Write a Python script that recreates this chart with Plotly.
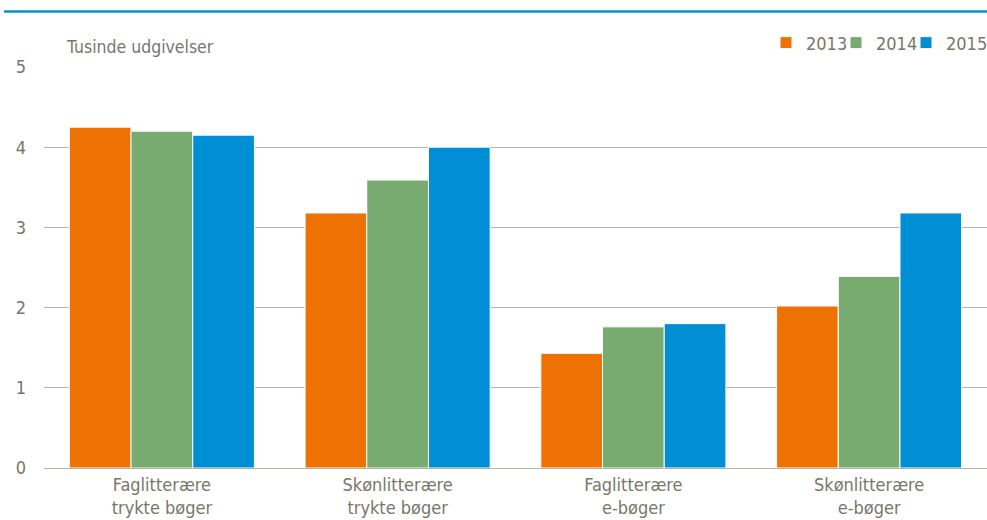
import plotly.graph_objects as go

categories = ["Faglitterære<br>trykte bøger", "Skønlitterære<br>trykte bøger",
              "Faglitterære<br>e-bøger", "Skønlitterære<br>e-bøger"]
years = ["2013", "2014", "2015"]
v2013 = [4.25, 3.18, 1.43, 2.02]
v2014 = [4.20, 3.59, 1.76, 2.39]
v2015 = [4.15, 4.00, 1.80, 3.18]
colors = ["#EE7203", "#78AB6F", "#008FD5"]
y_ticks = [0, 1, 2, 3, 4, 5]

FONT = "DejaVu Sans Condensed, Liberation Sans, sans-serif"
TXT = "#77776a"

fig = go.Figure()
for i, (name, vals, c) in enumerate(zip(years, [v2013, v2014, v2015], colors)):
    fig.add_trace(go.Bar(name=name, x=categories, y=vals, marker_color=c,
                         marker_line_color="white", marker_line_width=1,
                         legendwidth=(42 if i == len(years) - 1 else 25)))

fig.update_layout(
    width=987, height=520,
    margin=dict(l=44, r=0, t=67, b=52, autoexpand=False),
    paper_bgcolor="white", plot_bgcolor="white",
    barmode="group", bargap=0.215, bargroupgap=0.0,
    font=dict(family=FONT, color=TXT, size=18),
    showlegend=True,
    legend=dict(orientation="h", x=1.0 + 6 / 943, xanchor="right", y=1.06, yanchor="middle",
                bgcolor="rgba(0,0,0,0)", font=dict(size=18, color=TXT),
                itemwidth=30, entrywidth=25, entrywidthmode="pixels",
                traceorder="normal"),
    xaxis=dict(showgrid=False, showline=False, ticks="", ticklabelstandoff=4,
               tickfont=dict(size=18, color=TXT)),
    yaxis=dict(range=[0, 5], tickvals=y_ticks, showgrid=True, gridcolor="#b5b5a5",
               gridwidth=1, zeroline=True, zerolinecolor="#b5b5a5", zerolinewidth=1,
               ticks="", ticklabelstandoff=17, tickfont=dict(size=18, color=TXT)),
    annotations=[dict(text="Tusinde udgivelser", xref="paper", yref="paper",
                      x=0.021, y=1.05, xanchor="left", yanchor="middle",
                      showarrow=False, font=dict(size=17.5, color=TXT))],
    shapes=[dict(type="line", xref="paper", yref="paper", x0=-0.0424, x1=1.0,
                 y0=1.1384, y1=1.1384, line=dict(color="#0A8FCF", width=2.5))],
)

fig.write_html(
    "out.html", config={"displayModeBar": False},
    post_script=("document.documentElement.style.overflow='hidden';"
                 "document.body.style.margin='0';document.body.style.padding='0';"
                 "document.body.style.overflow='hidden';"))
